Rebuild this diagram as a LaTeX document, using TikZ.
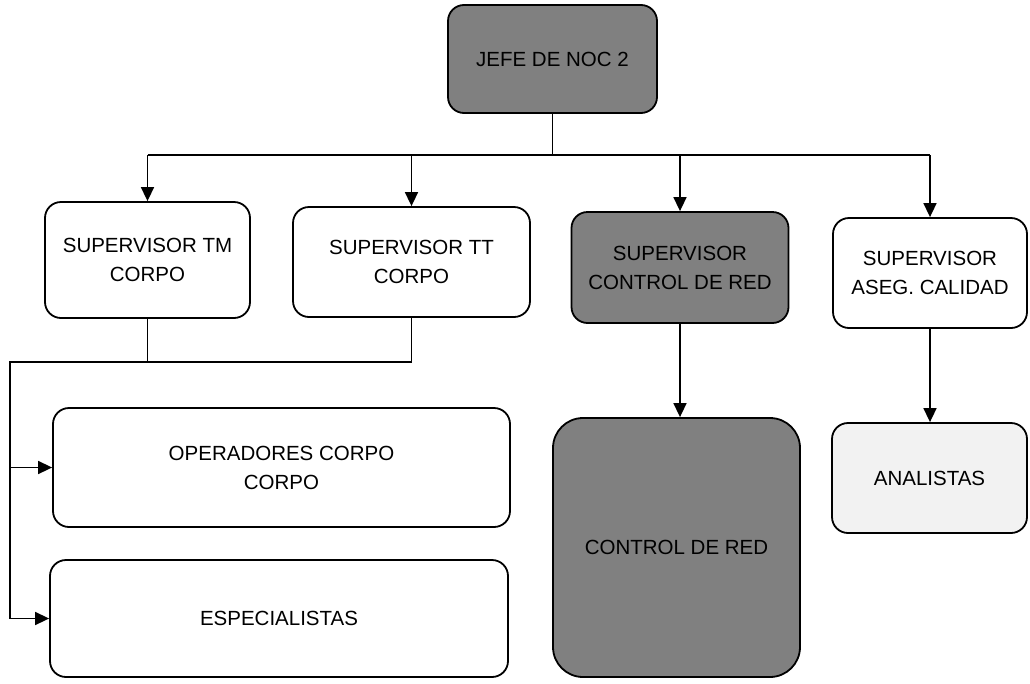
\documentclass[tikz,border=0pt]{standalone}
\usepackage{fontspec}
\setmainfont{Liberation Sans}
\usetikzlibrary{arrows.meta}
\begin{document}
\begin{tikzpicture}[x=1pt,y=-1pt,
  box/.style={draw=black, line width=1.8pt, rounded corners=16pt, align=center,
    font=\fontsize{20.5}{29}\selectfont, inner sep=0pt},
  dark/.style={box, fill=black!50},
  light/.style={box, fill=black!5},
  conn/.style={line width=1.6pt},
  arr/.style={conn, -{Triangle[length=14pt,width=13pt]}}]
\useasboundingbox (0,0) rectangle (1030,683);
\node[dark, minimum width=209pt, minimum height=108pt] (jefe) at (552.5,59) {JEFE DE NOC 2};
\node[box, minimum width=205pt, minimum height=116pt] (tm) at (147.5,260) {SUPERVISOR TM\\CORPO};
\node[box, minimum width=237pt, minimum height=110pt] (tt) at (411.5,262) {SUPERVISOR TT\\CORPO};
\node[dark, minimum width=217pt, minimum height=111pt] (scr) at (680,267.5) {SUPERVISOR\\CONTROL DE RED};
\node[box, minimum width=194pt, minimum height=110pt] (sac) at (930,273) {SUPERVISOR\\ASEG. CALIDAD};
\node[box, minimum width=457pt, minimum height=119pt] (oper) at (281.5,467.5) {OPERADORES CORPO\\CORPO};
\node[box, minimum width=458pt, minimum height=117pt] (esp) at (279,618.5) {ESPECIALISTAS};
\node[dark, rounded corners=30pt, minimum width=247pt, minimum height=259pt] (cdr) at (676.5,547.5) {CONTROL DE RED};
\node[light, minimum width=195pt, minimum height=110pt] (ana) at (929.5,478) {ANALISTAS};
\coordinate (bus) at (552.5,155);
\coordinate (busl) at (147.5,155);
\coordinate (busr) at (930,155);
\draw[conn] (jefe.south) -- (bus);
\draw[conn] (busl) -- (busr);
\draw[arr] (busl) -- (tm.north);
\draw[arr] (tt.north |- bus) -- (tt.north);
\draw[arr] (scr.north |- bus) -- (scr.north);
\draw[arr] (busr) -- (sac.north);
\draw[arr] (scr.south) -- (scr.south |- cdr.north);
\draw[arr] (sac.south) -- (sac.south |- ana.north);
\coordinate (j1) at (10,362);
\coordinate (jl) at (10,618.5);
\draw[conn] (tm.south) -- (tm.south |- j1);
\draw[conn] (tt.south) -- (tt.south |- j1) -- (j1) -- (jl);
\draw[arr] (j1 |- oper.west) -- (oper.west);
\draw[arr] (jl) -- (esp.west);
\end{tikzpicture}
\end{document}
